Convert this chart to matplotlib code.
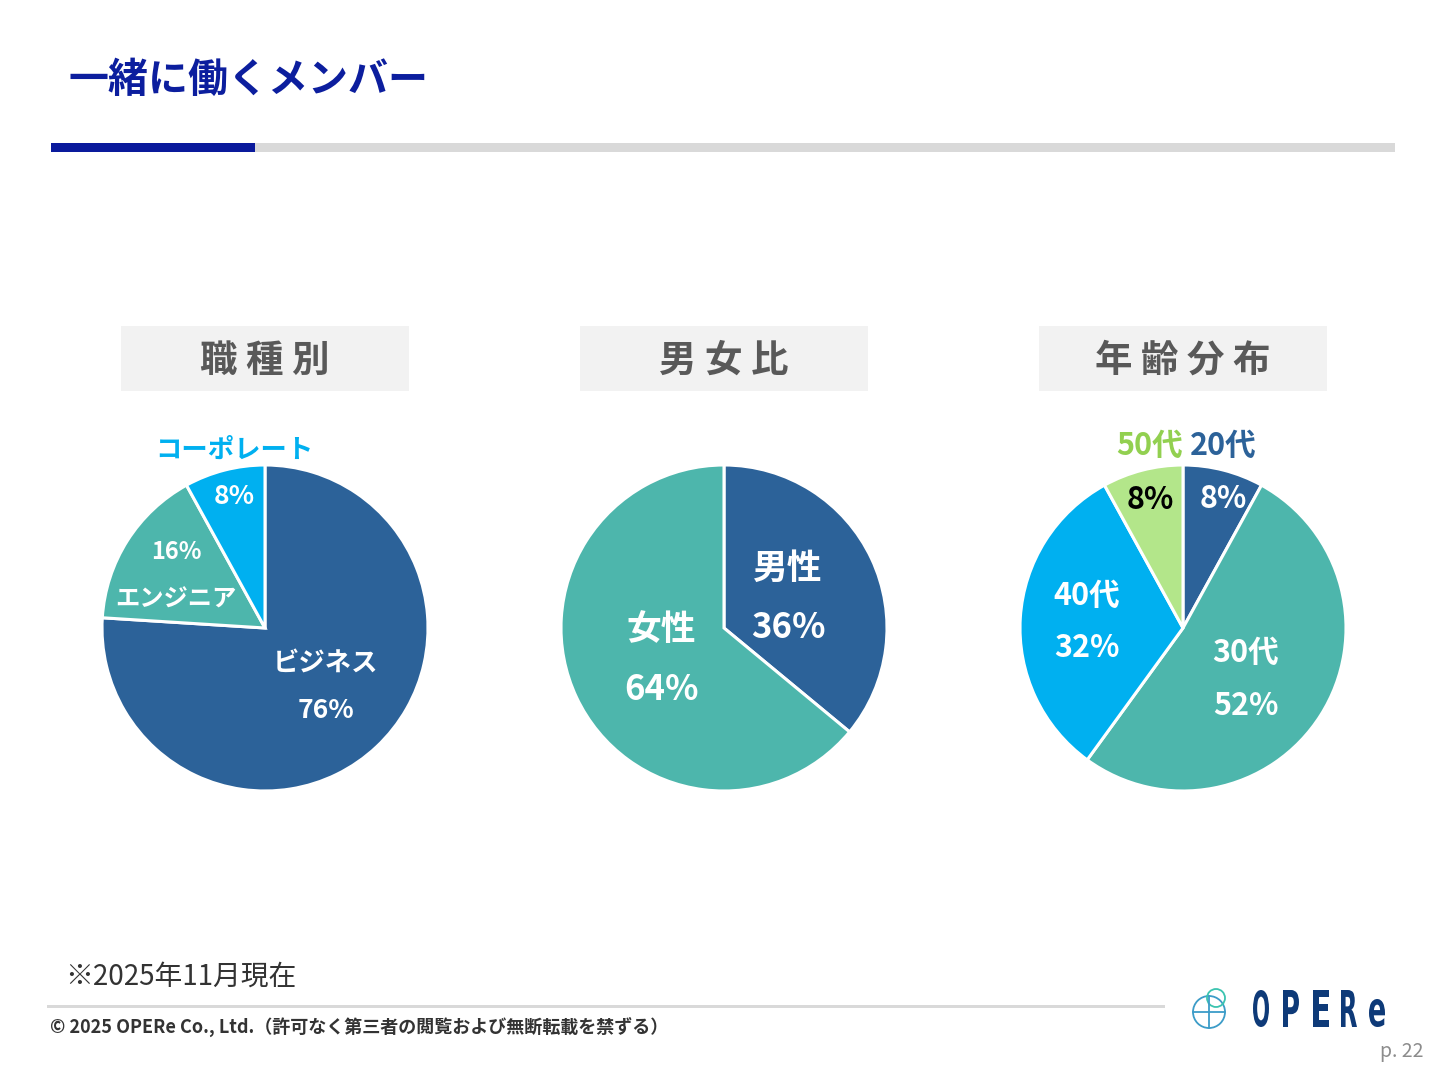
import matplotlib
matplotlib.use('Agg')
import matplotlib.pyplot as plt
from matplotlib.patches import Rectangle, Circle, PathPatch
from matplotlib.textpath import TextPath
from matplotlib.font_manager import FontProperties
from matplotlib.transforms import Affine2D
import numpy as np

plt.rcParams['font.family'] = ['Noto Sans CJK JP', 'DejaVu Sans']

# ---------------- data ----------------
title = "一緒に働くメンバー"
chart_titles = ["職 種 別", "男 女 比", "年 齢 分 布"]

job_labels = ["ビジネス", "エンジニア", "コーポレート"]
job_values = [76, 16, 8]

gender_labels = ["男性", "女性"]
gender_values = [36, 64]

age_labels = ["20代", "30代", "40代", "50代"]
age_values = [8, 52, 32, 8]

note_text = "※2025年11月現在"
copyright_text = "© 2025 OPERe Co., Ltd.（許可なく第三者の閲覧および無断転載を禁ずる）"
page_text = "p. 22"
logo_text = "OPERe"

# ---------------- style ----------------
DARK = '#2C6299'
TEAL = '#4DB6AC'
CYAN = '#00B0F0'
LGREEN = '#B3E68A'
GREEN_TXT = '#92D050'
NAVY_TITLE = '#0C1E9E'

W, H = 1440, 1080
fig = plt.figure(figsize=(W / 100, H / 100), dpi=100)
fig.patch.set_facecolor('white')

ov = fig.add_axes([0, 0, 1, 1])
ov.set_xlim(0, W)
ov.set_ylim(H, 0)
ov.axis('off')

# title & bar
ov.text(68, 80, title, ha='left', va='center', fontsize=28.8, fontweight='bold', color=NAVY_TITLE)
ov.add_patch(Rectangle((255, 143), 1140, 9, color='#D9D9D9', lw=0))
ov.add_patch(Rectangle((51, 143), 204, 9, color='#0A1A9C', lw=0))

# chart header boxes
centers_x = [265, 724, 1183]
for cx, t in zip(centers_x, chart_titles):
    ov.add_patch(Rectangle((cx - 144, 326), 288, 65, color='#F2F2F2', lw=0))
    ov.text(cx, 360, t, ha='center', va='center', fontsize=27, fontweight='bold', color='#595959')

R = 163
PCY = 628
YSHIFT = -2.5 / R


def draw_pie(cx, values, colors, specs):
    ax = fig.add_axes([(cx - R) / W, (H - PCY - R) / H, 2 * R / W, 2 * R / H])
    wedges, _ = ax.pie(values, colors=colors, startangle=90, counterclock=False,
                       wedgeprops=dict(edgecolor='white', linewidth=2.2))
    ax.set_xlim(-1, 1)
    ax.set_ylim(-1, 1)
    ax.set_aspect('equal')
    for w in wedges:
        w.set_clip_on(False)
    for w, sp in zip(wedges, specs):
        ang = np.deg2rad((w.theta1 + w.theta2) / 2 + sp.get('dang', 0))
        x0 = sp['r'] * np.cos(ang)
        y0 = sp['r'] * np.sin(ang) + YSHIFT
        lines = sp['lines']
        gap = sp['gap'] / R
        n = len(lines)
        for i, (txt, col, size) in enumerate(lines):
            y = y0 + ((n - 1) / 2 - i) * gap
            ax.text(x0, y, txt, ha='center', va='center', fontsize=size,
                    fontweight='bold', color=col)
    return ax


pct = lambda v: f"{v}%"

# pie 1
draw_pie(265, job_values, [DARK, TEAL, CYAN], [
    dict(r=0.51, dang=4, gap=47, lines=[(job_labels[0], 'white', 19), (pct(job_values[0]), 'white', 19)]),
    dict(r=0.64, dang=0.7, gap=48, lines=[(pct(job_values[1]), 'white', 17), (job_labels[1], 'white', 17.5)]),
    dict(r=0.98, dang=-3.4, gap=46, lines=[(job_labels[2], CYAN, 19), (pct(job_values[2]), 'white', 19)]),
])

# pie 2
draw_pie(724, gender_values, [DARK, TEAL], [
    dict(r=0.44, dang=1.7, gap=59, lines=[(gender_labels[0], 'white', 25), (pct(gender_values[0]), 'white', 25)]),
    dict(r=0.425, dang=-0.5, gap=60, lines=[(gender_labels[1], 'white', 25), (pct(gender_values[1]), 'white', 25)]),
])

# pie 3
draw_pie(1183, age_values, [DARK, TEAL, CYAN, LGREEN], [
    dict(r=1.0, dang=0.2, gap=54, lines=[(age_labels[0], DARK, 22), (pct(age_values[0]), 'white', 22)]),
    dict(r=0.488, dang=-5.2, gap=53, lines=[(age_labels[1], 'white', 22), (pct(age_values[1]), 'white', 22)]),
    dict(r=0.591, dang=-1.5, gap=53, lines=[(age_labels[2], 'white', 22), (pct(age_values[2]), 'white', 22)]),
    dict(r=0.99, dang=-2.6, gap=54, lines=[(age_labels[3], GREEN_TXT, 22), (pct(age_values[3]), 'black', 22)]),
])

# footer
ov.text(65, 977, note_text, ha='left', va='center', fontsize=20, color='#333333')
ov.add_patch(Rectangle((47, 1004.5), 1118, 3, color='#D9D9D9', lw=0))
ov.text(50, 1027, copyright_text, ha='left', va='center', fontsize=13, fontweight='bold', color='#333333')
ov.text(1424, 1052, page_text, ha='right', va='center', fontsize=14, color='#8C8C8C')

# logo icon
ov.add_patch(Circle((1209, 1012), 16, fill=False, ec='#3C9CC8', lw=1.3))
ov.plot([1193, 1225], [1012, 1012], color='#3C9CC8', lw=1.3)
ov.plot([1209, 1209], [996, 1028], color='#3C9CC8', lw=1.3)
ov.add_patch(Circle((1216, 998), 9, fill=False, ec='#3CC4B0', lw=1.3))

# logo text (condensed letters)
fp = FontProperties(family='DejaVu Sans', weight='bold')
letter_x = [1253, 1283, 1313, 1341, 1369]
for lx, ch in zip(letter_x, logo_text):
    tp = TextPath((0, 0), ch, size=50, prop=fp)
    ext = tp.get_extents()
    sx = 16 / ext.width
    sy = 37 / ext.height if ch != 'e' else 28 / ext.height
    tr = Affine2D().translate(-ext.x0, -ext.y0).scale(sx, -sy).translate(lx, 1027)
    path = tr.transform_path(tp)
    ov.add_patch(PathPatch(path, color='#0E3A78', lw=0))

fig.savefig('out.png', dpi=100)
